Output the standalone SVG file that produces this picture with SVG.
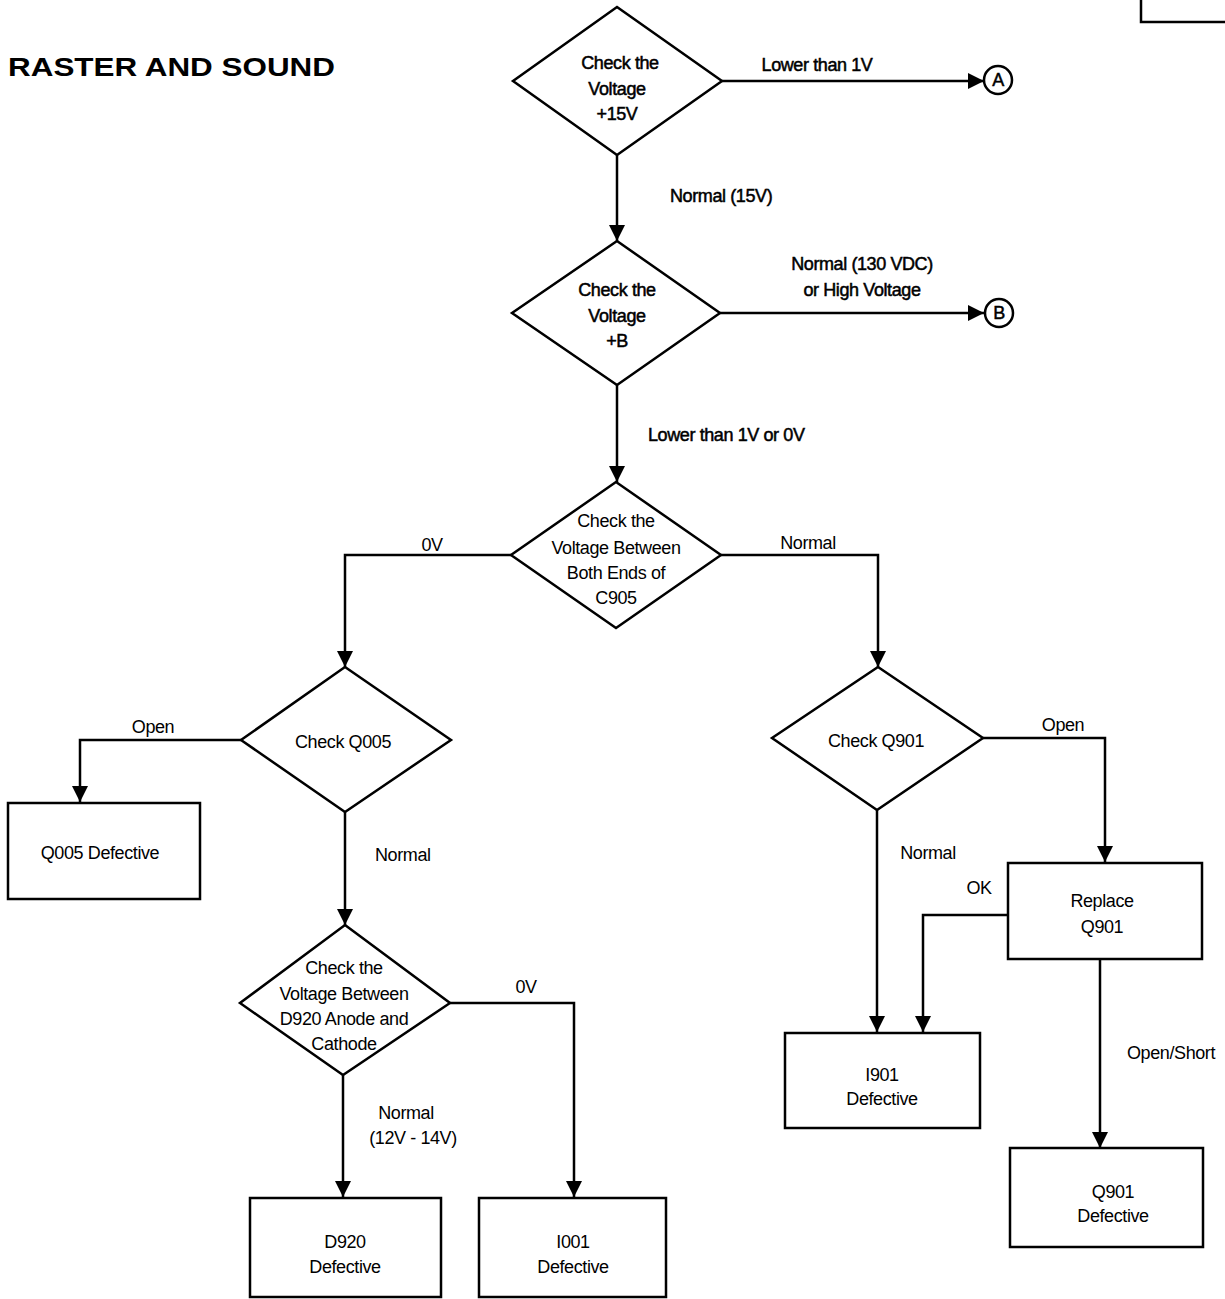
<svg xmlns="http://www.w3.org/2000/svg" width="1225" height="1299" viewBox="0 0 1225 1299">
<style>
.shape{fill:#fff;stroke:#000;stroke-width:2.5}
.ln{fill:none;stroke:#000;stroke-width:2.5}
text{font-family:"Liberation Sans",Arial,sans-serif;font-size:18px;letter-spacing:-0.4px;fill:#000;text-anchor:middle}
.b{stroke:#000;stroke-width:0.5}
.l{text-anchor:start}
.title{font-weight:bold;font-size:26px;letter-spacing:0;text-anchor:start}
</style>
<defs>
<marker id="arr" viewBox="0 0 16 16" refX="16" refY="8" markerWidth="16" markerHeight="16" markerUnits="userSpaceOnUse" orient="auto">
<path d="M0,0 L16,8 L0,16 Z" fill="#000"/>
</marker>
</defs>
<rect width="1225" height="1299" fill="#fff"/>
<path class="ln" d="M1141,0 V22 H1225" stroke-width="2"/>
<text class="title" x="8" y="76" textLength="327" lengthAdjust="spacingAndGlyphs">RASTER AND SOUND</text>

<g id="connectors">
<path class="ln" d="M617,155 V241" marker-end="url(#arr)"/>
<path class="ln" d="M722,81 H984" marker-end="url(#arr)"/>
<path class="ln" d="M617,385 V482" marker-end="url(#arr)"/>
<path class="ln" d="M720,313 H984" marker-end="url(#arr)"/>
<path class="ln" d="M511,555 H345 V667" marker-end="url(#arr)"/>
<path class="ln" d="M721,555 H878 V667" marker-end="url(#arr)"/>
<path class="ln" d="M241,740 H80 V802" marker-end="url(#arr)"/>
<path class="ln" d="M345,812 V925" marker-end="url(#arr)"/>
<path class="ln" d="M450,1003 H574 V1197" marker-end="url(#arr)"/>
<path class="ln" d="M343,1075 V1197" marker-end="url(#arr)"/>
<path class="ln" d="M983,738 H1105 V862" marker-end="url(#arr)"/>
<path class="ln" d="M877,810 V1032" marker-end="url(#arr)"/>
<path class="ln" d="M1008,915 H923 V1032" marker-end="url(#arr)"/>
<path class="ln" d="M1100,959 V1148" marker-end="url(#arr)"/>
<text class="b" x="817" y="71">Lower than 1V</text>
<text class="b l" x="670" y="202">Normal (15V)</text>
<text class="b" x="862" y="270">Normal (130 VDC)</text>
<text class="b" x="862" y="296">or High Voltage</text>
<text class="b l" x="648" y="441">Lower than 1V or 0V</text>
<text x="432" y="551">0V</text>
<text x="808" y="549">Normal</text>
<text x="153" y="733">Open</text>
<text class="l" x="375" y="861">Normal</text>
<text x="526" y="993">0V</text>
<text x="406" y="1119">Normal</text>
<text x="413" y="1144">(12V - 14V)</text>
<text x="1063" y="731">Open</text>
<text x="928" y="859">Normal</text>
<text x="979" y="894">OK</text>
<text class="l" x="1127" y="1059">Open/Short</text>
</g>

<g id="circleA"><circle class="shape" cx="998" cy="80" r="14" stroke-width="2"/><text class="b" x="998" y="86" font-size="16">A</text></g>
<g id="circleB"><circle class="shape" cx="999" cy="313" r="14" stroke-width="2"/><text class="b" x="999" y="319" font-size="16">B</text></g>

<g id="d1"><polygon class="shape" points="617,7 722,81 617,155 513,81"/>
<text class="b" x="620" y="69">Check the</text><text class="b" x="617" y="95">Voltage</text><text class="b" x="617" y="120">+15V</text></g>

<g id="d2"><polygon class="shape" points="617,241 720,313 617,385 512,313"/>
<text class="b" x="617" y="296">Check the</text><text class="b" x="617" y="322">Voltage</text><text class="b" x="617" y="347">+B</text></g>

<g id="d3"><polygon class="shape" points="616,482 721,555 616,628 511,555"/>
<text x="616" y="527">Check the</text><text x="616" y="554">Voltage Between</text><text x="616" y="579">Both Ends of</text><text x="616" y="604">C905</text></g>

<g id="dq005"><polygon class="shape" points="345,667 451,740 345,812 241,740"/>
<text x="343" y="748">Check Q005</text></g>

<g id="q005def"><rect class="shape" x="8" y="803" width="192" height="96"/>
<text x="100" y="859">Q005 Defective</text></g>

<g id="dd920"><polygon class="shape" points="345,925 450,1003 343,1075 240,1003"/>
<text x="344" y="974">Check the</text><text x="344" y="1000">Voltage Between</text><text x="344" y="1025">D920 Anode and</text><text x="344" y="1050">Cathode</text></g>

<g id="d920def"><rect class="shape" x="250" y="1198" width="191" height="99"/>
<text x="345" y="1248">D920</text><text x="345" y="1273">Defective</text></g>

<g id="i001def"><rect class="shape" x="479" y="1198" width="187" height="99"/>
<text x="573" y="1248">I001</text><text x="573" y="1273">Defective</text></g>

<g id="dq901"><polygon class="shape" points="878,667 983,738 877,810 772,738"/>
<text x="876" y="747">Check Q901</text></g>

<g id="replace"><rect class="shape" x="1008" y="863" width="194" height="96"/>
<text x="1102" y="907">Replace</text><text x="1102" y="933">Q901</text></g>

<g id="i901def"><rect class="shape" x="785" y="1033" width="195" height="95"/>
<text x="882" y="1081">I901</text><text x="882" y="1105">Defective</text></g>

<g id="q901def"><rect class="shape" x="1010" y="1148" width="193" height="99"/>
<text x="1113" y="1198">Q901</text><text x="1113" y="1222">Defective</text></g>
</svg>
